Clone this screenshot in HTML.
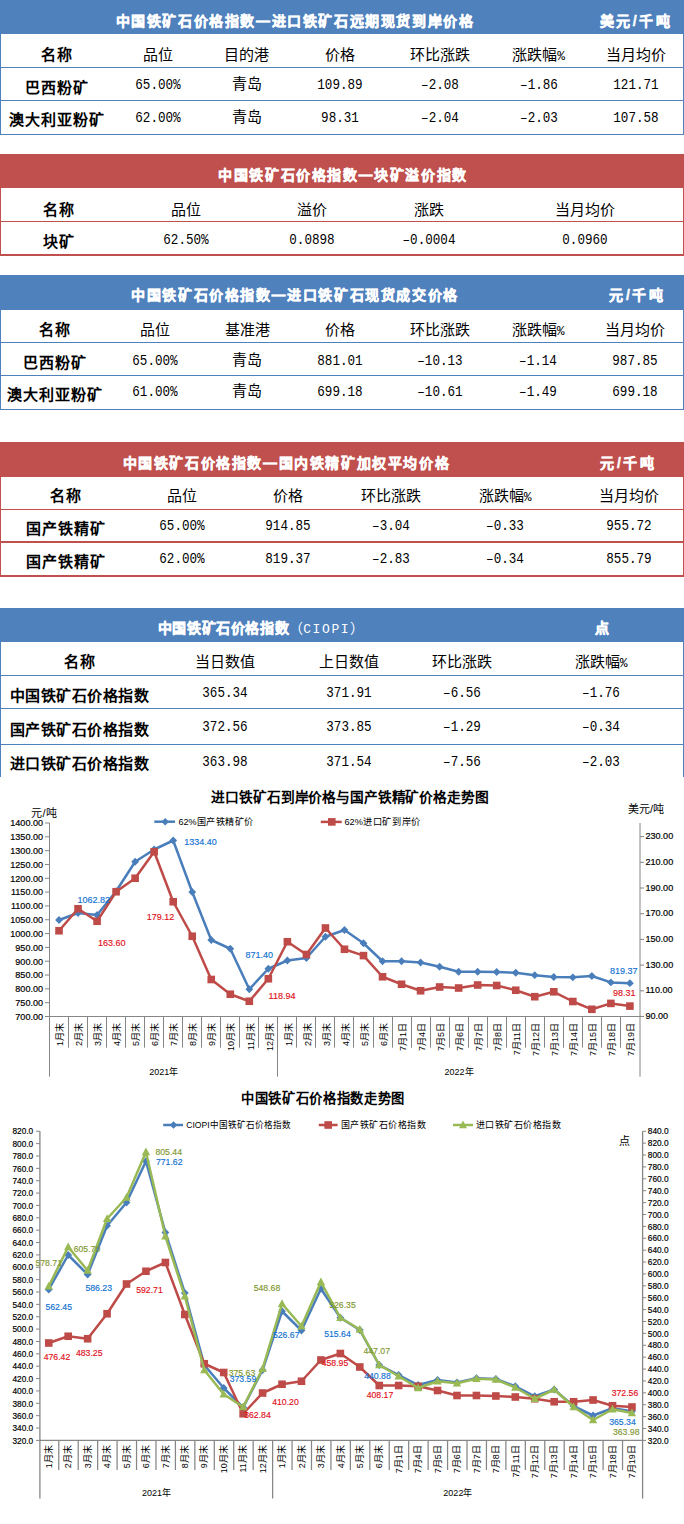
<!DOCTYPE html>
<html lang="zh-CN"><head><meta charset="utf-8"><title>中国铁矿石价格指数</title>
<style>
*{margin:0;padding:0;box-sizing:border-box}
html,body{width:684px;height:1524px;overflow:hidden;background:#fff}
body{position:relative;font-family:"Liberation Sans",sans-serif;color:#000}
.bar{position:absolute;left:0;width:684px}
.hl{position:absolute;left:0;width:684px;height:1px}
.vl{position:absolute;width:1px}
.t{position:absolute;white-space:nowrap;line-height:15px;height:15px;transform:translate(-50%,-50%)}
.cj{font-size:15px}
.cb{font-size:15px;font-weight:bold;letter-spacing:1px}
.cbn{letter-spacing:0.5px}
.hd{font-size:14px;font-weight:bold;letter-spacing:1.6px;color:#fff;-webkit-text-stroke:0.45px #fff}
.hu{letter-spacing:2.6px}
.nm{font-family:"Liberation Mono",monospace;font-size:15px;transform:translate(-50%,-50%) scaleX(0.84)}
svg{position:absolute;left:0;top:0}
.pc{font-family:"Liberation Mono",monospace;font-size:13px;letter-spacing:-0.5px}
.ci{font-weight:normal;-webkit-text-stroke:0;letter-spacing:0}
.cm{font-family:"Liberation Mono",monospace;font-size:13px;letter-spacing:1.6px}
</style></head><body>
<div style="position:absolute;left:0px;top:0px;width:684px;height:34px;background:#4F81BD"></div>
<div style="position:absolute;left:0px;top:34px;width:1px;height:101px;background:#4F81BD"></div>
<div style="position:absolute;left:683px;top:34px;width:1px;height:101px;background:#4F81BD"></div>
<div style="position:absolute;left:0px;top:67px;width:684px;height:1px;background:#4F81BD"></div>
<div style="position:absolute;left:0px;top:100px;width:684px;height:1px;background:#4F81BD"></div>
<div style="position:absolute;left:0px;top:134px;width:684px;height:1px;background:#4F81BD"></div>
<div class="t hd" style="left:295px;top:20.5px">中国铁矿石价格指数—进口铁矿石远期现货到岸价格</div>
<div class="t hd hu" style="left:636px;top:20.5px">美元/千吨</div>
<div class="t cb" style="left:57px;top:54px">名称</div>
<div class="t cj" style="left:158px;top:54px">品位</div>
<div class="t cj" style="left:246.5px;top:54px">目的港</div>
<div class="t cj" style="left:340px;top:54px">价格</div>
<div class="t cj" style="left:439.5px;top:54px">环比涨跌</div>
<div class="t cj" style="left:538.5px;top:54px">涨跌幅<span class="pc">%</span></div>
<div class="t cj" style="left:635.5px;top:54px">当月均价</div>
<div class="t cb" style="left:57px;top:86.5px">巴西粉矿</div>
<div class="t nm" style="left:158px;top:85.0px">65.00%</div>
<div class="t cj" style="left:246.5px;top:83.0px">青岛</div>
<div class="t nm" style="left:340px;top:85.0px">109.89</div>
<div class="t nm" style="left:439.5px;top:85.0px">–2.08</div>
<div class="t nm" style="left:538.5px;top:85.0px">–1.86</div>
<div class="t nm" style="left:635.5px;top:85.0px">121.71</div>
<div class="t cb" style="left:57px;top:119px">澳大利亚粉矿</div>
<div class="t nm" style="left:158px;top:117.5px">62.00%</div>
<div class="t cj" style="left:246.5px;top:115.5px">青岛</div>
<div class="t nm" style="left:340px;top:117.5px">98.31</div>
<div class="t nm" style="left:439.5px;top:117.5px">–2.04</div>
<div class="t nm" style="left:538.5px;top:117.5px">–2.03</div>
<div class="t nm" style="left:635.5px;top:117.5px">107.58</div>
<div style="position:absolute;left:0px;top:154px;width:684px;height:34px;background:#C0504D"></div>
<div style="position:absolute;left:0px;top:188px;width:1px;height:68px;background:#C0504D"></div>
<div style="position:absolute;left:683px;top:188px;width:1px;height:68px;background:#C0504D"></div>
<div style="position:absolute;left:0px;top:221px;width:684px;height:1px;background:#C0504D"></div>
<div style="position:absolute;left:0px;top:254px;width:684px;height:1px;background:#C0504D"></div>
<div style="position:absolute;left:0px;top:255px;width:684px;height:1px;background:#C0504D"></div>
<div class="t hd" style="left:343px;top:175px">中国铁矿石价格指数—块矿溢价指数</div>
<div class="t cb" style="left:59px;top:209px">名称</div>
<div class="t cj" style="left:186px;top:209px">品位</div>
<div class="t cj" style="left:312px;top:209px">溢价</div>
<div class="t cj" style="left:429px;top:209px">涨跌</div>
<div class="t cj" style="left:585px;top:209px">当月均价</div>
<div class="t cb" style="left:59px;top:241px">块矿</div>
<div class="t nm" style="left:186px;top:239.5px">62.50%</div>
<div class="t nm" style="left:312px;top:239.5px">0.0898</div>
<div class="t nm" style="left:429px;top:239.5px">–0.0004</div>
<div class="t nm" style="left:585px;top:239.5px">0.0960</div>
<div style="position:absolute;left:0px;top:275px;width:684px;height:35px;background:#4F81BD"></div>
<div style="position:absolute;left:0px;top:310px;width:1px;height:100px;background:#4F81BD"></div>
<div style="position:absolute;left:683px;top:310px;width:1px;height:100px;background:#4F81BD"></div>
<div style="position:absolute;left:0px;top:342px;width:684px;height:1px;background:#4F81BD"></div>
<div style="position:absolute;left:0px;top:375px;width:684px;height:1px;background:#4F81BD"></div>
<div style="position:absolute;left:0px;top:409px;width:684px;height:1px;background:#4F81BD"></div>
<div class="t hd" style="left:295px;top:295px">中国铁矿石价格指数—进口铁矿石现货成交价格</div>
<div class="t hd hu" style="left:637.5px;top:295px">元/千吨</div>
<div class="t cb" style="left:55px;top:329px">名称</div>
<div class="t cj" style="left:155px;top:329px">品位</div>
<div class="t cj" style="left:247px;top:329px">基准港</div>
<div class="t cj" style="left:340px;top:329px">价格</div>
<div class="t cj" style="left:440px;top:329px">环比涨跌</div>
<div class="t cj" style="left:538px;top:329px">涨跌幅<span class="pc">%</span></div>
<div class="t cj" style="left:635px;top:329px">当月均价</div>
<div class="t cb" style="left:55px;top:362px">巴西粉矿</div>
<div class="t nm" style="left:155px;top:360.5px">65.00%</div>
<div class="t cj" style="left:247px;top:358.5px">青岛</div>
<div class="t nm" style="left:340px;top:360.5px">881.01</div>
<div class="t nm" style="left:440px;top:360.5px">–10.13</div>
<div class="t nm" style="left:538px;top:360.5px">–1.14</div>
<div class="t nm" style="left:635px;top:360.5px">987.85</div>
<div class="t cb" style="left:55px;top:393.5px">澳大利亚粉矿</div>
<div class="t nm" style="left:155px;top:392.0px">61.00%</div>
<div class="t cj" style="left:247px;top:390.0px">青岛</div>
<div class="t nm" style="left:340px;top:392.0px">699.18</div>
<div class="t nm" style="left:440px;top:392.0px">–10.61</div>
<div class="t nm" style="left:538px;top:392.0px">–1.49</div>
<div class="t nm" style="left:635px;top:392.0px">699.18</div>
<div style="position:absolute;left:0px;top:442px;width:684px;height:35px;background:#C0504D"></div>
<div style="position:absolute;left:0px;top:477px;width:1px;height:100px;background:#C0504D"></div>
<div style="position:absolute;left:683px;top:477px;width:1px;height:100px;background:#C0504D"></div>
<div style="position:absolute;left:0px;top:509px;width:684px;height:1px;background:#C0504D"></div>
<div style="position:absolute;left:0px;top:541px;width:684px;height:1px;background:#C0504D"></div>
<div style="position:absolute;left:0px;top:542px;width:684px;height:1px;background:#C0504D"></div>
<div style="position:absolute;left:0px;top:575px;width:684px;height:1px;background:#C0504D"></div>
<div style="position:absolute;left:0px;top:576px;width:684px;height:1px;background:#C0504D"></div>
<div class="t hd" style="left:286.5px;top:462.5px">中国铁矿石价格指数—国内铁精矿加权平均价格</div>
<div class="t hd hu" style="left:628.5px;top:462.5px">元/千吨</div>
<div class="t cb" style="left:65.5px;top:495px">名称</div>
<div class="t cj" style="left:181.5px;top:495px">品位</div>
<div class="t cj" style="left:287.5px;top:495px">价格</div>
<div class="t cj" style="left:391px;top:495px">环比涨跌</div>
<div class="t cj" style="left:505px;top:495px">涨跌幅<span class="pc">%</span></div>
<div class="t cj" style="left:629px;top:495px">当月均价</div>
<div class="t cb" style="left:65.5px;top:527.5px">国产铁精矿</div>
<div class="t nm" style="left:181.5px;top:526.0px">65.00%</div>
<div class="t nm" style="left:287.5px;top:526.0px">914.85</div>
<div class="t nm" style="left:391px;top:526.0px">–3.04</div>
<div class="t nm" style="left:505px;top:526.0px">–0.33</div>
<div class="t nm" style="left:629px;top:526.0px">955.72</div>
<div class="t cb" style="left:65.5px;top:560.5px">国产铁精矿</div>
<div class="t nm" style="left:181.5px;top:559.0px">62.00%</div>
<div class="t nm" style="left:287.5px;top:559.0px">819.37</div>
<div class="t nm" style="left:391px;top:559.0px">–2.83</div>
<div class="t nm" style="left:505px;top:559.0px">–0.34</div>
<div class="t nm" style="left:629px;top:559.0px">855.79</div>
<div style="position:absolute;left:0px;top:608px;width:684px;height:34px;background:#4F81BD"></div>
<div style="position:absolute;left:0px;top:642px;width:1px;height:135px;background:#4F81BD"></div>
<div style="position:absolute;left:683px;top:642px;width:1px;height:135px;background:#4F81BD"></div>
<div style="position:absolute;left:0px;top:675px;width:684px;height:1px;background:#4F81BD"></div>
<div style="position:absolute;left:0px;top:708px;width:684px;height:1px;background:#4F81BD"></div>
<div style="position:absolute;left:0px;top:744px;width:684px;height:1px;background:#4F81BD"></div>
<div class="t hd" style="left:261px;top:627.5px"><span style="letter-spacing:0.6px">中国铁矿石价格指数</span><span class="ci">（<span class="cm">CIOPI</span>）</span></div>
<div class="t hd hu" style="left:603px;top:627.5px">点</div>
<div class="t cb" style="left:79.5px;top:660.5px">名称</div>
<div class="t cj" style="left:225px;top:660.5px">当日数值</div>
<div class="t cj" style="left:349px;top:660.5px">上日数值</div>
<div class="t cj" style="left:462px;top:660.5px">环比涨跌</div>
<div class="t cj" style="left:601px;top:660.5px">涨跌幅<span class="pc">%</span></div>
<div class="t cb cbn" style="left:79.5px;top:694.5px">中国铁矿石价格指数</div>
<div class="t nm" style="left:225px;top:693.0px">365.34</div>
<div class="t nm" style="left:349px;top:693.0px">371.91</div>
<div class="t nm" style="left:462px;top:693.0px">–6.56</div>
<div class="t nm" style="left:601px;top:693.0px">–1.76</div>
<div class="t cb cbn" style="left:79.5px;top:728.5px">国产铁矿石价格指数</div>
<div class="t nm" style="left:225px;top:727.0px">372.56</div>
<div class="t nm" style="left:349px;top:727.0px">373.85</div>
<div class="t nm" style="left:462px;top:727.0px">–1.29</div>
<div class="t nm" style="left:601px;top:727.0px">–0.34</div>
<div class="t cb cbn" style="left:79.5px;top:763px">进口铁矿石价格指数</div>
<div class="t nm" style="left:225px;top:761.5px">363.98</div>
<div class="t nm" style="left:349px;top:761.5px">371.54</div>
<div class="t nm" style="left:462px;top:761.5px">–7.56</div>
<div class="t nm" style="left:601px;top:761.5px">–2.03</div>
<svg width="684" height="1524" viewBox="0 0 684 1524" font-family="Liberation Sans, sans-serif">
<text transform="translate(350.00,802.30) scale(0.98,1)" font-size="14" text-anchor="middle" fill="#000" font-weight="bold" >进口铁矿石到岸价格与国产铁精矿价格走势图</text>
<line x1="154.3" y1="821.7" x2="175" y2="821.7" stroke="#4A7EBB" stroke-width="2.5"/>
<path d="M165.2 817.9000000000001L169.0 821.7L165.2 825.5L161.39999999999998 821.7Z" fill="#4A7EBB"/>
<text x="178.4" y="825" font-size="9.5" text-anchor="start" fill="#000" font-weight="normal"  textLength="75.5" lengthAdjust="spacingAndGlyphs">62%国产铁精矿价</text>
<line x1="320.8" y1="821.9" x2="341.7" y2="821.9" stroke="#BE4B48" stroke-width="2.5"/>
<rect x="328.0" y="818.1" width="7.6" height="7.6" fill="#BE4B48"/>
<text x="344.5" y="825" font-size="9.5" text-anchor="start" fill="#000" font-weight="normal"  textLength="76.5" lengthAdjust="spacingAndGlyphs">62%进口矿到岸价</text>
<text x="44" y="816.5" font-size="11" text-anchor="middle" fill="#000" font-weight="normal" >元/吨</text>
<text x="646" y="813" font-size="11" text-anchor="middle" fill="#000" font-weight="normal" >美元/吨</text>
<line x1="49.5" y1="823" x2="49.5" y2="1076.7" stroke="#868686" stroke-width="1"/>
<line x1="640" y1="823" x2="640" y2="1076.7" stroke="#868686" stroke-width="1"/>
<line x1="49.5" y1="1016.5" x2="640" y2="1016.5" stroke="#868686" stroke-width="1"/>
<line x1="45" y1="823.0" x2="49.5" y2="823.0" stroke="#868686" stroke-width="1"/>
<text transform="translate(43.00,826.30) scale(0.955,1)" font-size="9.5" text-anchor="end" fill="#000" font-weight="normal"  stroke="#000" stroke-width="0.2">1400.00</text>
<line x1="45" y1="836.8214285714286" x2="49.5" y2="836.8214285714286" stroke="#868686" stroke-width="1"/>
<text transform="translate(43.00,840.12) scale(0.955,1)" font-size="9.5" text-anchor="end" fill="#000" font-weight="normal"  stroke="#000" stroke-width="0.2">1350.00</text>
<line x1="45" y1="850.6428571428571" x2="49.5" y2="850.6428571428571" stroke="#868686" stroke-width="1"/>
<text transform="translate(43.00,853.94) scale(0.955,1)" font-size="9.5" text-anchor="end" fill="#000" font-weight="normal"  stroke="#000" stroke-width="0.2">1300.00</text>
<line x1="45" y1="864.4642857142857" x2="49.5" y2="864.4642857142857" stroke="#868686" stroke-width="1"/>
<text transform="translate(43.00,867.76) scale(0.955,1)" font-size="9.5" text-anchor="end" fill="#000" font-weight="normal"  stroke="#000" stroke-width="0.2">1250.00</text>
<line x1="45" y1="878.2857142857143" x2="49.5" y2="878.2857142857143" stroke="#868686" stroke-width="1"/>
<text transform="translate(43.00,881.59) scale(0.955,1)" font-size="9.5" text-anchor="end" fill="#000" font-weight="normal"  stroke="#000" stroke-width="0.2">1200.00</text>
<line x1="45" y1="892.1071428571429" x2="49.5" y2="892.1071428571429" stroke="#868686" stroke-width="1"/>
<text transform="translate(43.00,895.41) scale(0.955,1)" font-size="9.5" text-anchor="end" fill="#000" font-weight="normal"  stroke="#000" stroke-width="0.2">1150.00</text>
<line x1="45" y1="905.9285714285714" x2="49.5" y2="905.9285714285714" stroke="#868686" stroke-width="1"/>
<text transform="translate(43.00,909.23) scale(0.955,1)" font-size="9.5" text-anchor="end" fill="#000" font-weight="normal"  stroke="#000" stroke-width="0.2">1100.00</text>
<line x1="45" y1="919.75" x2="49.5" y2="919.75" stroke="#868686" stroke-width="1"/>
<text transform="translate(43.00,923.05) scale(0.955,1)" font-size="9.5" text-anchor="end" fill="#000" font-weight="normal"  stroke="#000" stroke-width="0.2">1050.00</text>
<line x1="45" y1="933.5714285714286" x2="49.5" y2="933.5714285714286" stroke="#868686" stroke-width="1"/>
<text transform="translate(43.00,936.87) scale(0.955,1)" font-size="9.5" text-anchor="end" fill="#000" font-weight="normal"  stroke="#000" stroke-width="0.2">1000.00</text>
<line x1="45" y1="947.3928571428571" x2="49.5" y2="947.3928571428571" stroke="#868686" stroke-width="1"/>
<text transform="translate(43.00,950.69) scale(0.955,1)" font-size="9.5" text-anchor="end" fill="#000" font-weight="normal"  stroke="#000" stroke-width="0.2">950.00</text>
<line x1="45" y1="961.2142857142858" x2="49.5" y2="961.2142857142858" stroke="#868686" stroke-width="1"/>
<text transform="translate(43.00,964.51) scale(0.955,1)" font-size="9.5" text-anchor="end" fill="#000" font-weight="normal"  stroke="#000" stroke-width="0.2">900.00</text>
<line x1="45" y1="975.0357142857142" x2="49.5" y2="975.0357142857142" stroke="#868686" stroke-width="1"/>
<text transform="translate(43.00,978.34) scale(0.955,1)" font-size="9.5" text-anchor="end" fill="#000" font-weight="normal"  stroke="#000" stroke-width="0.2">850.00</text>
<line x1="45" y1="988.8571428571429" x2="49.5" y2="988.8571428571429" stroke="#868686" stroke-width="1"/>
<text transform="translate(43.00,992.16) scale(0.955,1)" font-size="9.5" text-anchor="end" fill="#000" font-weight="normal"  stroke="#000" stroke-width="0.2">800.00</text>
<line x1="45" y1="1002.6785714285714" x2="49.5" y2="1002.6785714285714" stroke="#868686" stroke-width="1"/>
<text transform="translate(43.00,1005.98) scale(0.955,1)" font-size="9.5" text-anchor="end" fill="#000" font-weight="normal"  stroke="#000" stroke-width="0.2">750.00</text>
<line x1="45" y1="1016.5" x2="49.5" y2="1016.5" stroke="#868686" stroke-width="1"/>
<text transform="translate(43.00,1019.80) scale(0.955,1)" font-size="9.5" text-anchor="end" fill="#000" font-weight="normal"  stroke="#000" stroke-width="0.2">700.00</text>
<line x1="640" y1="1016.5" x2="644" y2="1016.5" stroke="#868686" stroke-width="1"/>
<text transform="translate(645.50,1019.00) scale(0.955,1)" font-size="9.5" text-anchor="start" fill="#000" font-weight="normal"  stroke="#000" stroke-width="0.2">90.00</text>
<line x1="640" y1="990.8" x2="644" y2="990.8" stroke="#868686" stroke-width="1"/>
<text transform="translate(645.50,993.30) scale(0.955,1)" font-size="9.5" text-anchor="start" fill="#000" font-weight="normal"  stroke="#000" stroke-width="0.2">110.00</text>
<line x1="640" y1="965.1" x2="644" y2="965.1" stroke="#868686" stroke-width="1"/>
<text transform="translate(645.50,967.60) scale(0.955,1)" font-size="9.5" text-anchor="start" fill="#000" font-weight="normal"  stroke="#000" stroke-width="0.2">130.00</text>
<line x1="640" y1="939.4" x2="644" y2="939.4" stroke="#868686" stroke-width="1"/>
<text transform="translate(645.50,941.90) scale(0.955,1)" font-size="9.5" text-anchor="start" fill="#000" font-weight="normal"  stroke="#000" stroke-width="0.2">150.00</text>
<line x1="640" y1="913.7" x2="644" y2="913.7" stroke="#868686" stroke-width="1"/>
<text transform="translate(645.50,916.20) scale(0.955,1)" font-size="9.5" text-anchor="start" fill="#000" font-weight="normal"  stroke="#000" stroke-width="0.2">170.00</text>
<line x1="640" y1="888.0" x2="644" y2="888.0" stroke="#868686" stroke-width="1"/>
<text transform="translate(645.50,890.50) scale(0.955,1)" font-size="9.5" text-anchor="start" fill="#000" font-weight="normal"  stroke="#000" stroke-width="0.2">190.00</text>
<line x1="640" y1="862.3" x2="644" y2="862.3" stroke="#868686" stroke-width="1"/>
<text transform="translate(645.50,864.80) scale(0.955,1)" font-size="9.5" text-anchor="start" fill="#000" font-weight="normal"  stroke="#000" stroke-width="0.2">210.00</text>
<line x1="640" y1="836.6" x2="644" y2="836.6" stroke="#868686" stroke-width="1"/>
<text transform="translate(645.50,839.10) scale(0.955,1)" font-size="9.5" text-anchor="start" fill="#000" font-weight="normal"  stroke="#000" stroke-width="0.2">230.00</text>
<line x1="68.5" y1="1016.5" x2="68.5" y2="1047.7" stroke="#868686" stroke-width="1"/>
<line x1="87.5" y1="1016.5" x2="87.5" y2="1047.7" stroke="#868686" stroke-width="1"/>
<line x1="106.5" y1="1016.5" x2="106.5" y2="1047.7" stroke="#868686" stroke-width="1"/>
<line x1="125.5" y1="1016.5" x2="125.5" y2="1047.7" stroke="#868686" stroke-width="1"/>
<line x1="144.5" y1="1016.5" x2="144.5" y2="1047.7" stroke="#868686" stroke-width="1"/>
<line x1="163.5" y1="1016.5" x2="163.5" y2="1047.7" stroke="#868686" stroke-width="1"/>
<line x1="182.5" y1="1016.5" x2="182.5" y2="1047.7" stroke="#868686" stroke-width="1"/>
<line x1="201.5" y1="1016.5" x2="201.5" y2="1047.7" stroke="#868686" stroke-width="1"/>
<line x1="220.5" y1="1016.5" x2="220.5" y2="1047.7" stroke="#868686" stroke-width="1"/>
<line x1="239.5" y1="1016.5" x2="239.5" y2="1047.7" stroke="#868686" stroke-width="1"/>
<line x1="258.5" y1="1016.5" x2="258.5" y2="1047.7" stroke="#868686" stroke-width="1"/>
<line x1="277.5" y1="1016.5" x2="277.5" y2="1076.7" stroke="#868686" stroke-width="1"/>
<line x1="296.5" y1="1016.5" x2="296.5" y2="1047.7" stroke="#868686" stroke-width="1"/>
<line x1="315.5" y1="1016.5" x2="315.5" y2="1047.7" stroke="#868686" stroke-width="1"/>
<line x1="334.5" y1="1016.5" x2="334.5" y2="1047.7" stroke="#868686" stroke-width="1"/>
<line x1="353.5" y1="1016.5" x2="353.5" y2="1047.7" stroke="#868686" stroke-width="1"/>
<line x1="373.5" y1="1016.5" x2="373.5" y2="1047.7" stroke="#868686" stroke-width="1"/>
<line x1="392.5" y1="1016.5" x2="392.5" y2="1047.7" stroke="#868686" stroke-width="1"/>
<line x1="411.5" y1="1016.5" x2="411.5" y2="1047.7" stroke="#868686" stroke-width="1"/>
<line x1="430.5" y1="1016.5" x2="430.5" y2="1047.7" stroke="#868686" stroke-width="1"/>
<line x1="449.5" y1="1016.5" x2="449.5" y2="1047.7" stroke="#868686" stroke-width="1"/>
<line x1="468.5" y1="1016.5" x2="468.5" y2="1047.7" stroke="#868686" stroke-width="1"/>
<line x1="487.5" y1="1016.5" x2="487.5" y2="1047.7" stroke="#868686" stroke-width="1"/>
<line x1="506.5" y1="1016.5" x2="506.5" y2="1047.7" stroke="#868686" stroke-width="1"/>
<line x1="525.5" y1="1016.5" x2="525.5" y2="1047.7" stroke="#868686" stroke-width="1"/>
<line x1="544.5" y1="1016.5" x2="544.5" y2="1047.7" stroke="#868686" stroke-width="1"/>
<line x1="563.5" y1="1016.5" x2="563.5" y2="1047.7" stroke="#868686" stroke-width="1"/>
<line x1="582.5" y1="1016.5" x2="582.5" y2="1047.7" stroke="#868686" stroke-width="1"/>
<line x1="601.5" y1="1016.5" x2="601.5" y2="1047.7" stroke="#868686" stroke-width="1"/>
<line x1="620.5" y1="1016.5" x2="620.5" y2="1047.7" stroke="#868686" stroke-width="1"/>
<text x="0" y="0" font-size="9" text-anchor="end" fill="#000" font-weight="normal" transform="translate(63.22,1023) rotate(-90)">1月末</text>
<text x="0" y="0" font-size="9" text-anchor="end" fill="#000" font-weight="normal" transform="translate(82.25,1023) rotate(-90)">2月末</text>
<text x="0" y="0" font-size="9" text-anchor="end" fill="#000" font-weight="normal" transform="translate(101.28,1023) rotate(-90)">3月末</text>
<text x="0" y="0" font-size="9" text-anchor="end" fill="#000" font-weight="normal" transform="translate(120.31,1023) rotate(-90)">4月末</text>
<text x="0" y="0" font-size="9" text-anchor="end" fill="#000" font-weight="normal" transform="translate(139.33,1023) rotate(-90)">5月末</text>
<text x="0" y="0" font-size="9" text-anchor="end" fill="#000" font-weight="normal" transform="translate(158.37,1023) rotate(-90)">6月末</text>
<text x="0" y="0" font-size="9" text-anchor="end" fill="#000" font-weight="normal" transform="translate(177.39,1023) rotate(-90)">7月末</text>
<text x="0" y="0" font-size="9" text-anchor="end" fill="#000" font-weight="normal" transform="translate(196.43,1023) rotate(-90)">8月末</text>
<text x="0" y="0" font-size="9" text-anchor="end" fill="#000" font-weight="normal" transform="translate(215.45,1023) rotate(-90)">9月末</text>
<text x="0" y="0" font-size="9" text-anchor="end" fill="#000" font-weight="normal" transform="translate(234.49,1023) rotate(-90)">10月末</text>
<text x="0" y="0" font-size="9" text-anchor="end" fill="#000" font-weight="normal" transform="translate(253.51,1023) rotate(-90)">11月末</text>
<text x="0" y="0" font-size="9" text-anchor="end" fill="#000" font-weight="normal" transform="translate(272.55,1023) rotate(-90)">12月末</text>
<text x="0" y="0" font-size="9" text-anchor="end" fill="#000" font-weight="normal" transform="translate(291.57,1023) rotate(-90)">1月末</text>
<text x="0" y="0" font-size="9" text-anchor="end" fill="#000" font-weight="normal" transform="translate(310.61,1023) rotate(-90)">2月末</text>
<text x="0" y="0" font-size="9" text-anchor="end" fill="#000" font-weight="normal" transform="translate(329.63,1023) rotate(-90)">3月末</text>
<text x="0" y="0" font-size="9" text-anchor="end" fill="#000" font-weight="normal" transform="translate(348.67,1023) rotate(-90)">4月末</text>
<text x="0" y="0" font-size="9" text-anchor="end" fill="#000" font-weight="normal" transform="translate(367.69,1023) rotate(-90)">5月末</text>
<text x="0" y="0" font-size="9" text-anchor="end" fill="#000" font-weight="normal" transform="translate(386.73,1023) rotate(-90)">6月末</text>
<text x="0" y="0" font-size="9" text-anchor="end" fill="#000" font-weight="normal" transform="translate(405.75,1023) rotate(-90)">7月1日</text>
<text x="0" y="0" font-size="9" text-anchor="end" fill="#000" font-weight="normal" transform="translate(424.79,1023) rotate(-90)">7月4日</text>
<text x="0" y="0" font-size="9" text-anchor="end" fill="#000" font-weight="normal" transform="translate(443.81,1023) rotate(-90)">7月5日</text>
<text x="0" y="0" font-size="9" text-anchor="end" fill="#000" font-weight="normal" transform="translate(462.85,1023) rotate(-90)">7月6日</text>
<text x="0" y="0" font-size="9" text-anchor="end" fill="#000" font-weight="normal" transform="translate(481.88,1023) rotate(-90)">7月7日</text>
<text x="0" y="0" font-size="9" text-anchor="end" fill="#000" font-weight="normal" transform="translate(500.91,1023) rotate(-90)">7月8日</text>
<text x="0" y="0" font-size="9" text-anchor="end" fill="#000" font-weight="normal" transform="translate(519.94,1023) rotate(-90)">7月11日</text>
<text x="0" y="0" font-size="9" text-anchor="end" fill="#000" font-weight="normal" transform="translate(538.97,1023) rotate(-90)">7月12日</text>
<text x="0" y="0" font-size="9" text-anchor="end" fill="#000" font-weight="normal" transform="translate(558.00,1023) rotate(-90)">7月13日</text>
<text x="0" y="0" font-size="9" text-anchor="end" fill="#000" font-weight="normal" transform="translate(577.03,1023) rotate(-90)">7月14日</text>
<text x="0" y="0" font-size="9" text-anchor="end" fill="#000" font-weight="normal" transform="translate(596.06,1023) rotate(-90)">7月15日</text>
<text x="0" y="0" font-size="9" text-anchor="end" fill="#000" font-weight="normal" transform="translate(615.09,1023) rotate(-90)">7月18日</text>
<text x="0" y="0" font-size="9" text-anchor="end" fill="#000" font-weight="normal" transform="translate(634.12,1023) rotate(-90)">7月19日</text>
<text x="163.8" y="1074.5" font-size="9" text-anchor="middle" fill="#000" font-weight="normal" >2021年</text>
<text x="459" y="1074.5" font-size="9" text-anchor="middle" fill="#000" font-weight="normal" >2022年</text>
<polyline points="59.02,920.00 78.05,913.00 97.08,915.00 116.11,891.25 135.13,861.75 154.17,849.50 173.19,840.50 192.23,892.00 211.25,940.00 230.29,948.75 249.31,989.25 268.35,968.75 287.38,960.50 306.41,958.00 325.44,936.75 344.47,930.00 363.50,943.25 382.53,961.25 401.56,961.25 420.59,962.50 439.62,966.75 458.65,971.75 477.68,971.75 496.71,972.00 515.74,972.75 534.77,975.20 553.80,977.00 572.83,977.30 591.86,976.00 610.88,982.40 629.92,983.20" fill="none" stroke="#4A7EBB" stroke-width="2.5" stroke-linejoin="round"/>
<path d="M59.015 916.1L62.915 920L59.015 923.9L55.115 920Z" fill="#4A7EBB"/>
<path d="M78.045 909.1L81.94500000000001 913L78.045 916.9L74.145 913Z" fill="#4A7EBB"/>
<path d="M97.075 911.1L100.97500000000001 915L97.075 918.9L93.175 915Z" fill="#4A7EBB"/>
<path d="M116.105 887.35L120.00500000000001 891.25L116.105 895.15L112.205 891.25Z" fill="#4A7EBB"/>
<path d="M135.135 857.85L139.035 861.75L135.135 865.65L131.23499999999999 861.75Z" fill="#4A7EBB"/>
<path d="M154.16500000000002 845.6L158.06500000000003 849.5L154.16500000000002 853.4L150.26500000000001 849.5Z" fill="#4A7EBB"/>
<path d="M173.195 836.6L177.095 840.5L173.195 844.4L169.295 840.5Z" fill="#4A7EBB"/>
<path d="M192.22500000000002 888.1L196.12500000000003 892L192.22500000000002 895.9L188.32500000000002 892Z" fill="#4A7EBB"/>
<path d="M211.255 936.1L215.155 940L211.255 943.9L207.355 940Z" fill="#4A7EBB"/>
<path d="M230.28500000000003 944.85L234.18500000000003 948.75L230.28500000000003 952.65L226.38500000000002 948.75Z" fill="#4A7EBB"/>
<path d="M249.315 985.35L253.215 989.25L249.315 993.15L245.415 989.25Z" fill="#4A7EBB"/>
<path d="M268.345 964.85L272.245 968.75L268.345 972.65L264.44500000000005 968.75Z" fill="#4A7EBB"/>
<path d="M287.375 956.6L291.275 960.5L287.375 964.4L283.475 960.5Z" fill="#4A7EBB"/>
<path d="M306.40500000000003 954.1L310.305 958L306.40500000000003 961.9L302.50500000000005 958Z" fill="#4A7EBB"/>
<path d="M325.435 932.85L329.335 936.75L325.435 940.65L321.535 936.75Z" fill="#4A7EBB"/>
<path d="M344.46500000000003 926.1L348.365 930L344.46500000000003 933.9L340.56500000000005 930Z" fill="#4A7EBB"/>
<path d="M363.495 939.35L367.395 943.25L363.495 947.15L359.595 943.25Z" fill="#4A7EBB"/>
<path d="M382.52500000000003 957.35L386.425 961.25L382.52500000000003 965.15L378.62500000000006 961.25Z" fill="#4A7EBB"/>
<path d="M401.555 957.35L405.455 961.25L401.555 965.15L397.65500000000003 961.25Z" fill="#4A7EBB"/>
<path d="M420.58500000000004 958.6L424.485 962.5L420.58500000000004 966.4L416.68500000000006 962.5Z" fill="#4A7EBB"/>
<path d="M439.615 962.85L443.515 966.75L439.615 970.65L435.71500000000003 966.75Z" fill="#4A7EBB"/>
<path d="M458.64500000000004 967.85L462.545 971.75L458.64500000000004 975.65L454.74500000000006 971.75Z" fill="#4A7EBB"/>
<path d="M477.675 967.85L481.575 971.75L477.675 975.65L473.77500000000003 971.75Z" fill="#4A7EBB"/>
<path d="M496.70500000000004 968.1L500.605 972L496.70500000000004 975.9L492.80500000000006 972Z" fill="#4A7EBB"/>
<path d="M515.735 968.85L519.635 972.75L515.735 976.65L511.83500000000004 972.75Z" fill="#4A7EBB"/>
<path d="M534.7650000000001 971.3000000000001L538.6650000000001 975.2L534.7650000000001 979.1L530.8650000000001 975.2Z" fill="#4A7EBB"/>
<path d="M553.7950000000001 973.1L557.695 977L553.7950000000001 980.9L549.8950000000001 977Z" fill="#4A7EBB"/>
<path d="M572.825 973.4L576.725 977.3L572.825 981.1999999999999L568.9250000000001 977.3Z" fill="#4A7EBB"/>
<path d="M591.855 972.1L595.755 976L591.855 979.9L587.955 976Z" fill="#4A7EBB"/>
<path d="M610.885 978.5L614.785 982.4L610.885 986.3L606.985 982.4Z" fill="#4A7EBB"/>
<path d="M629.9150000000001 979.3000000000001L633.815 983.2L629.9150000000001 987.1L626.0150000000001 983.2Z" fill="#4A7EBB"/>
<polyline points="59.02,930.75 78.05,908.75 97.08,921.25 116.11,891.75 135.13,878.25 154.17,851.75 173.19,901.75 192.23,936.25 211.25,979.50 230.29,994.25 249.31,1001.25 268.35,978.75 287.38,941.75 306.41,954.50 325.44,928.00 344.47,949.25 363.50,955.60 382.53,976.75 401.56,984.25 420.59,990.75 439.62,987.00 458.65,988.00 477.68,985.00 496.71,985.50 515.74,990.25 534.77,996.70 553.80,991.80 572.83,1001.50 591.86,1009.30 610.88,1003.40 629.92,1006.10" fill="none" stroke="#BE4B48" stroke-width="2.5" stroke-linejoin="round"/>
<rect x="55.215" y="926.95" width="7.6" height="7.6" fill="#BE4B48"/>
<rect x="74.245" y="904.95" width="7.6" height="7.6" fill="#BE4B48"/>
<rect x="93.275" y="917.45" width="7.6" height="7.6" fill="#BE4B48"/>
<rect x="112.305" y="887.95" width="7.6" height="7.6" fill="#BE4B48"/>
<rect x="131.33499999999998" y="874.45" width="7.6" height="7.6" fill="#BE4B48"/>
<rect x="150.365" y="847.95" width="7.6" height="7.6" fill="#BE4B48"/>
<rect x="169.39499999999998" y="897.95" width="7.6" height="7.6" fill="#BE4B48"/>
<rect x="188.425" y="932.45" width="7.6" height="7.6" fill="#BE4B48"/>
<rect x="207.45499999999998" y="975.7" width="7.6" height="7.6" fill="#BE4B48"/>
<rect x="226.485" y="990.45" width="7.6" height="7.6" fill="#BE4B48"/>
<rect x="245.515" y="997.45" width="7.6" height="7.6" fill="#BE4B48"/>
<rect x="264.545" y="974.95" width="7.6" height="7.6" fill="#BE4B48"/>
<rect x="283.575" y="937.95" width="7.6" height="7.6" fill="#BE4B48"/>
<rect x="302.605" y="950.7" width="7.6" height="7.6" fill="#BE4B48"/>
<rect x="321.635" y="924.2" width="7.6" height="7.6" fill="#BE4B48"/>
<rect x="340.665" y="945.45" width="7.6" height="7.6" fill="#BE4B48"/>
<rect x="359.695" y="951.8000000000001" width="7.6" height="7.6" fill="#BE4B48"/>
<rect x="378.725" y="972.95" width="7.6" height="7.6" fill="#BE4B48"/>
<rect x="397.755" y="980.45" width="7.6" height="7.6" fill="#BE4B48"/>
<rect x="416.785" y="986.95" width="7.6" height="7.6" fill="#BE4B48"/>
<rect x="435.815" y="983.2" width="7.6" height="7.6" fill="#BE4B48"/>
<rect x="454.845" y="984.2" width="7.6" height="7.6" fill="#BE4B48"/>
<rect x="473.875" y="981.2" width="7.6" height="7.6" fill="#BE4B48"/>
<rect x="492.90500000000003" y="981.7" width="7.6" height="7.6" fill="#BE4B48"/>
<rect x="511.935" y="986.45" width="7.6" height="7.6" fill="#BE4B48"/>
<rect x="530.9650000000001" y="992.9000000000001" width="7.6" height="7.6" fill="#BE4B48"/>
<rect x="549.9950000000001" y="988.0" width="7.6" height="7.6" fill="#BE4B48"/>
<rect x="569.0250000000001" y="997.7" width="7.6" height="7.6" fill="#BE4B48"/>
<rect x="588.0550000000001" y="1005.5" width="7.6" height="7.6" fill="#BE4B48"/>
<rect x="607.085" y="999.6" width="7.6" height="7.6" fill="#BE4B48"/>
<rect x="626.1150000000001" y="1002.3000000000001" width="7.6" height="7.6" fill="#BE4B48"/>
<text x="93.75" y="902.75" font-size="9" text-anchor="middle" fill="#1272D2" font-weight="normal"  stroke="#1272D2" stroke-width="0.15">1062.82</text>
<text x="111.75" y="946.0" font-size="9" text-anchor="middle" fill="#E0101A" font-weight="normal"  stroke="#E0101A" stroke-width="0.15">163.60</text>
<text x="160.5" y="920.25" font-size="9" text-anchor="middle" fill="#E0101A" font-weight="normal"  stroke="#E0101A" stroke-width="0.15">179.12</text>
<text x="200.5" y="844.5" font-size="9" text-anchor="middle" fill="#1272D2" font-weight="normal"  stroke="#1272D2" stroke-width="0.15">1334.40</text>
<text x="259.25" y="957.75" font-size="9" text-anchor="middle" fill="#1272D2" font-weight="normal"  stroke="#1272D2" stroke-width="0.15">871.40</text>
<text x="282" y="999.25" font-size="9" text-anchor="middle" fill="#E0101A" font-weight="normal"  stroke="#E0101A" stroke-width="0.15">118.94</text>
<text x="623.75" y="973.8" font-size="9" text-anchor="middle" fill="#1272D2" font-weight="normal"  stroke="#1272D2" stroke-width="0.15">819.37</text>
<text x="624.3" y="995.6" font-size="9" text-anchor="middle" fill="#E0101A" font-weight="normal"  stroke="#E0101A" stroke-width="0.15">98.31</text>
<text transform="translate(323.00,1103.10) scale(0.95,1)" font-size="14" text-anchor="middle" fill="#000" font-weight="bold" >中国铁矿石价格指数走势图</text>
<line x1="163.2" y1="1125" x2="183" y2="1125" stroke="#4A7EBB" stroke-width="2.5"/>
<path d="M173.5 1121.2L177.3 1125L173.5 1128.8L169.7 1125Z" fill="#4A7EBB"/>
<text x="186.2" y="1128.3" font-size="9.5" text-anchor="start" fill="#000" font-weight="normal"  textLength="104.5" lengthAdjust="spacingAndGlyphs">CIOPI中国铁矿石价格指数</text>
<line x1="318.8" y1="1125" x2="337.6" y2="1125" stroke="#BE4B48" stroke-width="2.5"/>
<rect x="324.4" y="1121.2" width="7.6" height="7.6" fill="#BE4B48"/>
<text x="341" y="1128.3" font-size="9.5" text-anchor="start" fill="#000" font-weight="normal"  textLength="85" lengthAdjust="spacingAndGlyphs">国产铁矿石价格指数</text>
<line x1="453" y1="1125" x2="473" y2="1125" stroke="#98B954" stroke-width="2.5"/>
<path d="M463 1120.6L467 1128.2L459 1128.2Z" fill="#98B954"/>
<text x="475.5" y="1128.3" font-size="9.5" text-anchor="start" fill="#000" font-weight="normal"  textLength="85.5" lengthAdjust="spacingAndGlyphs">进口铁矿石价格指数</text>
<text x="624" y="1145" font-size="11" text-anchor="middle" fill="#000" font-weight="normal" >点</text>
<line x1="39.9" y1="1131.25" x2="39.9" y2="1498.5" stroke="#868686" stroke-width="1.3"/>
<line x1="642.6" y1="1131.25" x2="642.6" y2="1498.5" stroke="#868686" stroke-width="1.3"/>
<line x1="39.9" y1="1440.4" x2="642.6" y2="1440.4" stroke="#868686" stroke-width="1.3"/>
<line x1="36" y1="1131.25" x2="39.9" y2="1131.25" stroke="#868686" stroke-width="1"/>
<text transform="translate(33.20,1134.45) scale(0.89,1)" font-size="9.3" text-anchor="end" fill="#000" font-weight="normal"  stroke="#000" stroke-width="0.2">820.0</text>
<line x1="36" y1="1143.616" x2="39.9" y2="1143.616" stroke="#868686" stroke-width="1"/>
<text transform="translate(33.20,1146.82) scale(0.89,1)" font-size="9.3" text-anchor="end" fill="#000" font-weight="normal"  stroke="#000" stroke-width="0.2">800.0</text>
<line x1="36" y1="1155.982" x2="39.9" y2="1155.982" stroke="#868686" stroke-width="1"/>
<text transform="translate(33.20,1159.18) scale(0.89,1)" font-size="9.3" text-anchor="end" fill="#000" font-weight="normal"  stroke="#000" stroke-width="0.2">780.0</text>
<line x1="36" y1="1168.348" x2="39.9" y2="1168.348" stroke="#868686" stroke-width="1"/>
<text transform="translate(33.20,1171.55) scale(0.89,1)" font-size="9.3" text-anchor="end" fill="#000" font-weight="normal"  stroke="#000" stroke-width="0.2">760.0</text>
<line x1="36" y1="1180.714" x2="39.9" y2="1180.714" stroke="#868686" stroke-width="1"/>
<text transform="translate(33.20,1183.91) scale(0.89,1)" font-size="9.3" text-anchor="end" fill="#000" font-weight="normal"  stroke="#000" stroke-width="0.2">740.0</text>
<line x1="36" y1="1193.08" x2="39.9" y2="1193.08" stroke="#868686" stroke-width="1"/>
<text transform="translate(33.20,1196.28) scale(0.89,1)" font-size="9.3" text-anchor="end" fill="#000" font-weight="normal"  stroke="#000" stroke-width="0.2">720.0</text>
<line x1="36" y1="1205.446" x2="39.9" y2="1205.446" stroke="#868686" stroke-width="1"/>
<text transform="translate(33.20,1208.65) scale(0.89,1)" font-size="9.3" text-anchor="end" fill="#000" font-weight="normal"  stroke="#000" stroke-width="0.2">700.0</text>
<line x1="36" y1="1217.8120000000001" x2="39.9" y2="1217.8120000000001" stroke="#868686" stroke-width="1"/>
<text transform="translate(33.20,1221.01) scale(0.89,1)" font-size="9.3" text-anchor="end" fill="#000" font-weight="normal"  stroke="#000" stroke-width="0.2">680.0</text>
<line x1="36" y1="1230.178" x2="39.9" y2="1230.178" stroke="#868686" stroke-width="1"/>
<text transform="translate(33.20,1233.38) scale(0.89,1)" font-size="9.3" text-anchor="end" fill="#000" font-weight="normal"  stroke="#000" stroke-width="0.2">660.0</text>
<line x1="36" y1="1242.544" x2="39.9" y2="1242.544" stroke="#868686" stroke-width="1"/>
<text transform="translate(33.20,1245.74) scale(0.89,1)" font-size="9.3" text-anchor="end" fill="#000" font-weight="normal"  stroke="#000" stroke-width="0.2">640.0</text>
<line x1="36" y1="1254.91" x2="39.9" y2="1254.91" stroke="#868686" stroke-width="1"/>
<text transform="translate(33.20,1258.11) scale(0.89,1)" font-size="9.3" text-anchor="end" fill="#000" font-weight="normal"  stroke="#000" stroke-width="0.2">620.0</text>
<line x1="36" y1="1267.276" x2="39.9" y2="1267.276" stroke="#868686" stroke-width="1"/>
<text transform="translate(33.20,1270.48) scale(0.89,1)" font-size="9.3" text-anchor="end" fill="#000" font-weight="normal"  stroke="#000" stroke-width="0.2">600.0</text>
<line x1="36" y1="1279.642" x2="39.9" y2="1279.642" stroke="#868686" stroke-width="1"/>
<text transform="translate(33.20,1282.84) scale(0.89,1)" font-size="9.3" text-anchor="end" fill="#000" font-weight="normal"  stroke="#000" stroke-width="0.2">580.0</text>
<line x1="36" y1="1292.008" x2="39.9" y2="1292.008" stroke="#868686" stroke-width="1"/>
<text transform="translate(33.20,1295.21) scale(0.89,1)" font-size="9.3" text-anchor="end" fill="#000" font-weight="normal"  stroke="#000" stroke-width="0.2">560.0</text>
<line x1="36" y1="1304.374" x2="39.9" y2="1304.374" stroke="#868686" stroke-width="1"/>
<text transform="translate(33.20,1307.57) scale(0.89,1)" font-size="9.3" text-anchor="end" fill="#000" font-weight="normal"  stroke="#000" stroke-width="0.2">540.0</text>
<line x1="36" y1="1316.74" x2="39.9" y2="1316.74" stroke="#868686" stroke-width="1"/>
<text transform="translate(33.20,1319.94) scale(0.89,1)" font-size="9.3" text-anchor="end" fill="#000" font-weight="normal"  stroke="#000" stroke-width="0.2">520.0</text>
<line x1="36" y1="1329.106" x2="39.9" y2="1329.106" stroke="#868686" stroke-width="1"/>
<text transform="translate(33.20,1332.31) scale(0.89,1)" font-size="9.3" text-anchor="end" fill="#000" font-weight="normal"  stroke="#000" stroke-width="0.2">500.0</text>
<line x1="36" y1="1341.472" x2="39.9" y2="1341.472" stroke="#868686" stroke-width="1"/>
<text transform="translate(33.20,1344.67) scale(0.89,1)" font-size="9.3" text-anchor="end" fill="#000" font-weight="normal"  stroke="#000" stroke-width="0.2">480.0</text>
<line x1="36" y1="1353.8380000000002" x2="39.9" y2="1353.8380000000002" stroke="#868686" stroke-width="1"/>
<text transform="translate(33.20,1357.04) scale(0.89,1)" font-size="9.3" text-anchor="end" fill="#000" font-weight="normal"  stroke="#000" stroke-width="0.2">460.0</text>
<line x1="36" y1="1366.2040000000002" x2="39.9" y2="1366.2040000000002" stroke="#868686" stroke-width="1"/>
<text transform="translate(33.20,1369.40) scale(0.89,1)" font-size="9.3" text-anchor="end" fill="#000" font-weight="normal"  stroke="#000" stroke-width="0.2">440.0</text>
<line x1="36" y1="1378.5700000000002" x2="39.9" y2="1378.5700000000002" stroke="#868686" stroke-width="1"/>
<text transform="translate(33.20,1381.77) scale(0.89,1)" font-size="9.3" text-anchor="end" fill="#000" font-weight="normal"  stroke="#000" stroke-width="0.2">420.0</text>
<line x1="36" y1="1390.9360000000001" x2="39.9" y2="1390.9360000000001" stroke="#868686" stroke-width="1"/>
<text transform="translate(33.20,1394.14) scale(0.89,1)" font-size="9.3" text-anchor="end" fill="#000" font-weight="normal"  stroke="#000" stroke-width="0.2">400.0</text>
<line x1="36" y1="1403.3020000000001" x2="39.9" y2="1403.3020000000001" stroke="#868686" stroke-width="1"/>
<text transform="translate(33.20,1406.50) scale(0.89,1)" font-size="9.3" text-anchor="end" fill="#000" font-weight="normal"  stroke="#000" stroke-width="0.2">380.0</text>
<line x1="36" y1="1415.6680000000001" x2="39.9" y2="1415.6680000000001" stroke="#868686" stroke-width="1"/>
<text transform="translate(33.20,1418.87) scale(0.89,1)" font-size="9.3" text-anchor="end" fill="#000" font-weight="normal"  stroke="#000" stroke-width="0.2">360.0</text>
<line x1="36" y1="1428.034" x2="39.9" y2="1428.034" stroke="#868686" stroke-width="1"/>
<text transform="translate(33.20,1431.23) scale(0.89,1)" font-size="9.3" text-anchor="end" fill="#000" font-weight="normal"  stroke="#000" stroke-width="0.2">340.0</text>
<line x1="36" y1="1440.4" x2="39.9" y2="1440.4" stroke="#868686" stroke-width="1"/>
<text transform="translate(33.20,1443.60) scale(0.89,1)" font-size="9.3" text-anchor="end" fill="#000" font-weight="normal"  stroke="#000" stroke-width="0.2">320.0</text>
<line x1="642.6" y1="1131.25" x2="646" y2="1131.25" stroke="#868686" stroke-width="1"/>
<text transform="translate(647.80,1134.45) scale(0.89,1)" font-size="9.3" text-anchor="start" fill="#000" font-weight="normal"  stroke="#000" stroke-width="0.2">840.0</text>
<line x1="642.6" y1="1143.1403846153846" x2="646" y2="1143.1403846153846" stroke="#868686" stroke-width="1"/>
<text transform="translate(647.80,1146.34) scale(0.89,1)" font-size="9.3" text-anchor="start" fill="#000" font-weight="normal"  stroke="#000" stroke-width="0.2">820.0</text>
<line x1="642.6" y1="1155.0307692307692" x2="646" y2="1155.0307692307692" stroke="#868686" stroke-width="1"/>
<text transform="translate(647.80,1158.23) scale(0.89,1)" font-size="9.3" text-anchor="start" fill="#000" font-weight="normal"  stroke="#000" stroke-width="0.2">800.0</text>
<line x1="642.6" y1="1166.9211538461539" x2="646" y2="1166.9211538461539" stroke="#868686" stroke-width="1"/>
<text transform="translate(647.80,1170.12) scale(0.89,1)" font-size="9.3" text-anchor="start" fill="#000" font-weight="normal"  stroke="#000" stroke-width="0.2">780.0</text>
<line x1="642.6" y1="1178.8115384615385" x2="646" y2="1178.8115384615385" stroke="#868686" stroke-width="1"/>
<text transform="translate(647.80,1182.01) scale(0.89,1)" font-size="9.3" text-anchor="start" fill="#000" font-weight="normal"  stroke="#000" stroke-width="0.2">760.0</text>
<line x1="642.6" y1="1190.701923076923" x2="646" y2="1190.701923076923" stroke="#868686" stroke-width="1"/>
<text transform="translate(647.80,1193.90) scale(0.89,1)" font-size="9.3" text-anchor="start" fill="#000" font-weight="normal"  stroke="#000" stroke-width="0.2">740.0</text>
<line x1="642.6" y1="1202.5923076923077" x2="646" y2="1202.5923076923077" stroke="#868686" stroke-width="1"/>
<text transform="translate(647.80,1205.79) scale(0.89,1)" font-size="9.3" text-anchor="start" fill="#000" font-weight="normal"  stroke="#000" stroke-width="0.2">720.0</text>
<line x1="642.6" y1="1214.4826923076923" x2="646" y2="1214.4826923076923" stroke="#868686" stroke-width="1"/>
<text transform="translate(647.80,1217.68) scale(0.89,1)" font-size="9.3" text-anchor="start" fill="#000" font-weight="normal"  stroke="#000" stroke-width="0.2">700.0</text>
<line x1="642.6" y1="1226.373076923077" x2="646" y2="1226.373076923077" stroke="#868686" stroke-width="1"/>
<text transform="translate(647.80,1229.57) scale(0.89,1)" font-size="9.3" text-anchor="start" fill="#000" font-weight="normal"  stroke="#000" stroke-width="0.2">680.0</text>
<line x1="642.6" y1="1238.2634615384616" x2="646" y2="1238.2634615384616" stroke="#868686" stroke-width="1"/>
<text transform="translate(647.80,1241.46) scale(0.89,1)" font-size="9.3" text-anchor="start" fill="#000" font-weight="normal"  stroke="#000" stroke-width="0.2">660.0</text>
<line x1="642.6" y1="1250.1538461538462" x2="646" y2="1250.1538461538462" stroke="#868686" stroke-width="1"/>
<text transform="translate(647.80,1253.35) scale(0.89,1)" font-size="9.3" text-anchor="start" fill="#000" font-weight="normal"  stroke="#000" stroke-width="0.2">640.0</text>
<line x1="642.6" y1="1262.0442307692308" x2="646" y2="1262.0442307692308" stroke="#868686" stroke-width="1"/>
<text transform="translate(647.80,1265.24) scale(0.89,1)" font-size="9.3" text-anchor="start" fill="#000" font-weight="normal"  stroke="#000" stroke-width="0.2">620.0</text>
<line x1="642.6" y1="1273.9346153846154" x2="646" y2="1273.9346153846154" stroke="#868686" stroke-width="1"/>
<text transform="translate(647.80,1277.13) scale(0.89,1)" font-size="9.3" text-anchor="start" fill="#000" font-weight="normal"  stroke="#000" stroke-width="0.2">600.0</text>
<line x1="642.6" y1="1285.825" x2="646" y2="1285.825" stroke="#868686" stroke-width="1"/>
<text transform="translate(647.80,1289.03) scale(0.89,1)" font-size="9.3" text-anchor="start" fill="#000" font-weight="normal"  stroke="#000" stroke-width="0.2">580.0</text>
<line x1="642.6" y1="1297.7153846153847" x2="646" y2="1297.7153846153847" stroke="#868686" stroke-width="1"/>
<text transform="translate(647.80,1300.92) scale(0.89,1)" font-size="9.3" text-anchor="start" fill="#000" font-weight="normal"  stroke="#000" stroke-width="0.2">560.0</text>
<line x1="642.6" y1="1309.6057692307693" x2="646" y2="1309.6057692307693" stroke="#868686" stroke-width="1"/>
<text transform="translate(647.80,1312.81) scale(0.89,1)" font-size="9.3" text-anchor="start" fill="#000" font-weight="normal"  stroke="#000" stroke-width="0.2">540.0</text>
<line x1="642.6" y1="1321.496153846154" x2="646" y2="1321.496153846154" stroke="#868686" stroke-width="1"/>
<text transform="translate(647.80,1324.70) scale(0.89,1)" font-size="9.3" text-anchor="start" fill="#000" font-weight="normal"  stroke="#000" stroke-width="0.2">520.0</text>
<line x1="642.6" y1="1333.3865384615385" x2="646" y2="1333.3865384615385" stroke="#868686" stroke-width="1"/>
<text transform="translate(647.80,1336.59) scale(0.89,1)" font-size="9.3" text-anchor="start" fill="#000" font-weight="normal"  stroke="#000" stroke-width="0.2">500.0</text>
<line x1="642.6" y1="1345.2769230769231" x2="646" y2="1345.2769230769231" stroke="#868686" stroke-width="1"/>
<text transform="translate(647.80,1348.48) scale(0.89,1)" font-size="9.3" text-anchor="start" fill="#000" font-weight="normal"  stroke="#000" stroke-width="0.2">480.0</text>
<line x1="642.6" y1="1357.1673076923078" x2="646" y2="1357.1673076923078" stroke="#868686" stroke-width="1"/>
<text transform="translate(647.80,1360.37) scale(0.89,1)" font-size="9.3" text-anchor="start" fill="#000" font-weight="normal"  stroke="#000" stroke-width="0.2">460.0</text>
<line x1="642.6" y1="1369.0576923076924" x2="646" y2="1369.0576923076924" stroke="#868686" stroke-width="1"/>
<text transform="translate(647.80,1372.26) scale(0.89,1)" font-size="9.3" text-anchor="start" fill="#000" font-weight="normal"  stroke="#000" stroke-width="0.2">440.0</text>
<line x1="642.6" y1="1380.948076923077" x2="646" y2="1380.948076923077" stroke="#868686" stroke-width="1"/>
<text transform="translate(647.80,1384.15) scale(0.89,1)" font-size="9.3" text-anchor="start" fill="#000" font-weight="normal"  stroke="#000" stroke-width="0.2">420.0</text>
<line x1="642.6" y1="1392.8384615384616" x2="646" y2="1392.8384615384616" stroke="#868686" stroke-width="1"/>
<text transform="translate(647.80,1396.04) scale(0.89,1)" font-size="9.3" text-anchor="start" fill="#000" font-weight="normal"  stroke="#000" stroke-width="0.2">400.0</text>
<line x1="642.6" y1="1404.7288461538462" x2="646" y2="1404.7288461538462" stroke="#868686" stroke-width="1"/>
<text transform="translate(647.80,1407.93) scale(0.89,1)" font-size="9.3" text-anchor="start" fill="#000" font-weight="normal"  stroke="#000" stroke-width="0.2">380.0</text>
<line x1="642.6" y1="1416.6192307692309" x2="646" y2="1416.6192307692309" stroke="#868686" stroke-width="1"/>
<text transform="translate(647.80,1419.82) scale(0.89,1)" font-size="9.3" text-anchor="start" fill="#000" font-weight="normal"  stroke="#000" stroke-width="0.2">360.0</text>
<line x1="642.6" y1="1428.5096153846155" x2="646" y2="1428.5096153846155" stroke="#868686" stroke-width="1"/>
<text transform="translate(647.80,1431.71) scale(0.89,1)" font-size="9.3" text-anchor="start" fill="#000" font-weight="normal"  stroke="#000" stroke-width="0.2">340.0</text>
<line x1="642.6" y1="1440.4" x2="646" y2="1440.4" stroke="#868686" stroke-width="1"/>
<text transform="translate(647.80,1443.60) scale(0.89,1)" font-size="9.3" text-anchor="start" fill="#000" font-weight="normal"  stroke="#000" stroke-width="0.2">320.0</text>
<line x1="58.769999999999996" y1="1440.4" x2="58.769999999999996" y2="1470" stroke="#868686" stroke-width="1.25"/>
<line x1="78.21" y1="1440.4" x2="78.21" y2="1470" stroke="#868686" stroke-width="1.25"/>
<line x1="97.64999999999999" y1="1440.4" x2="97.64999999999999" y2="1470" stroke="#868686" stroke-width="1.25"/>
<line x1="117.09" y1="1440.4" x2="117.09" y2="1470" stroke="#868686" stroke-width="1.25"/>
<line x1="136.53000000000003" y1="1440.4" x2="136.53000000000003" y2="1470" stroke="#868686" stroke-width="1.25"/>
<line x1="155.97000000000003" y1="1440.4" x2="155.97000000000003" y2="1470" stroke="#868686" stroke-width="1.25"/>
<line x1="175.41000000000003" y1="1440.4" x2="175.41000000000003" y2="1470" stroke="#868686" stroke-width="1.25"/>
<line x1="194.85000000000002" y1="1440.4" x2="194.85000000000002" y2="1470" stroke="#868686" stroke-width="1.25"/>
<line x1="214.29000000000002" y1="1440.4" x2="214.29000000000002" y2="1470" stroke="#868686" stroke-width="1.25"/>
<line x1="233.73000000000002" y1="1440.4" x2="233.73000000000002" y2="1470" stroke="#868686" stroke-width="1.25"/>
<line x1="253.17000000000002" y1="1440.4" x2="253.17000000000002" y2="1470" stroke="#868686" stroke-width="1.25"/>
<line x1="272.61" y1="1440.4" x2="272.61" y2="1498.5" stroke="#868686" stroke-width="1.25"/>
<line x1="292.05" y1="1440.4" x2="292.05" y2="1470" stroke="#868686" stroke-width="1.25"/>
<line x1="311.49" y1="1440.4" x2="311.49" y2="1470" stroke="#868686" stroke-width="1.25"/>
<line x1="330.93" y1="1440.4" x2="330.93" y2="1470" stroke="#868686" stroke-width="1.25"/>
<line x1="350.37" y1="1440.4" x2="350.37" y2="1470" stroke="#868686" stroke-width="1.25"/>
<line x1="369.81000000000006" y1="1440.4" x2="369.81000000000006" y2="1470" stroke="#868686" stroke-width="1.25"/>
<line x1="389.25000000000006" y1="1440.4" x2="389.25000000000006" y2="1470" stroke="#868686" stroke-width="1.25"/>
<line x1="408.69000000000005" y1="1440.4" x2="408.69000000000005" y2="1470" stroke="#868686" stroke-width="1.25"/>
<line x1="428.13000000000005" y1="1440.4" x2="428.13000000000005" y2="1470" stroke="#868686" stroke-width="1.25"/>
<line x1="447.57000000000005" y1="1440.4" x2="447.57000000000005" y2="1470" stroke="#868686" stroke-width="1.25"/>
<line x1="467.01000000000005" y1="1440.4" x2="467.01000000000005" y2="1470" stroke="#868686" stroke-width="1.25"/>
<line x1="486.45000000000005" y1="1440.4" x2="486.45000000000005" y2="1470" stroke="#868686" stroke-width="1.25"/>
<line x1="505.89000000000004" y1="1440.4" x2="505.89000000000004" y2="1470" stroke="#868686" stroke-width="1.25"/>
<line x1="525.3299999999999" y1="1440.4" x2="525.3299999999999" y2="1470" stroke="#868686" stroke-width="1.25"/>
<line x1="544.77" y1="1440.4" x2="544.77" y2="1470" stroke="#868686" stroke-width="1.25"/>
<line x1="564.21" y1="1440.4" x2="564.21" y2="1470" stroke="#868686" stroke-width="1.25"/>
<line x1="583.65" y1="1440.4" x2="583.65" y2="1470" stroke="#868686" stroke-width="1.25"/>
<line x1="603.09" y1="1440.4" x2="603.09" y2="1470" stroke="#868686" stroke-width="1.25"/>
<line x1="622.53" y1="1440.4" x2="622.53" y2="1470" stroke="#868686" stroke-width="1.25"/>
<text x="0" y="0" font-size="9" text-anchor="end" fill="#000" font-weight="normal" transform="translate(51.95,1445.2) rotate(-90)">1月末</text>
<text x="0" y="0" font-size="9" text-anchor="end" fill="#000" font-weight="normal" transform="translate(71.39,1445.2) rotate(-90)">2月末</text>
<text x="0" y="0" font-size="9" text-anchor="end" fill="#000" font-weight="normal" transform="translate(90.83,1445.2) rotate(-90)">3月末</text>
<text x="0" y="0" font-size="9" text-anchor="end" fill="#000" font-weight="normal" transform="translate(110.27,1445.2) rotate(-90)">4月末</text>
<text x="0" y="0" font-size="9" text-anchor="end" fill="#000" font-weight="normal" transform="translate(129.71,1445.2) rotate(-90)">5月末</text>
<text x="0" y="0" font-size="9" text-anchor="end" fill="#000" font-weight="normal" transform="translate(149.15,1445.2) rotate(-90)">6月末</text>
<text x="0" y="0" font-size="9" text-anchor="end" fill="#000" font-weight="normal" transform="translate(168.59,1445.2) rotate(-90)">7月末</text>
<text x="0" y="0" font-size="9" text-anchor="end" fill="#000" font-weight="normal" transform="translate(188.03,1445.2) rotate(-90)">8月末</text>
<text x="0" y="0" font-size="9" text-anchor="end" fill="#000" font-weight="normal" transform="translate(207.47,1445.2) rotate(-90)">9月末</text>
<text x="0" y="0" font-size="9" text-anchor="end" fill="#000" font-weight="normal" transform="translate(226.91,1445.2) rotate(-90)">10月末</text>
<text x="0" y="0" font-size="9" text-anchor="end" fill="#000" font-weight="normal" transform="translate(246.35,1445.2) rotate(-90)">11月末</text>
<text x="0" y="0" font-size="9" text-anchor="end" fill="#000" font-weight="normal" transform="translate(265.79,1445.2) rotate(-90)">12月末</text>
<text x="0" y="0" font-size="9" text-anchor="end" fill="#000" font-weight="normal" transform="translate(285.23,1445.2) rotate(-90)">1月末</text>
<text x="0" y="0" font-size="9" text-anchor="end" fill="#000" font-weight="normal" transform="translate(304.67,1445.2) rotate(-90)">2月末</text>
<text x="0" y="0" font-size="9" text-anchor="end" fill="#000" font-weight="normal" transform="translate(324.11,1445.2) rotate(-90)">3月末</text>
<text x="0" y="0" font-size="9" text-anchor="end" fill="#000" font-weight="normal" transform="translate(343.55,1445.2) rotate(-90)">4月末</text>
<text x="0" y="0" font-size="9" text-anchor="end" fill="#000" font-weight="normal" transform="translate(362.99,1445.2) rotate(-90)">5月末</text>
<text x="0" y="0" font-size="9" text-anchor="end" fill="#000" font-weight="normal" transform="translate(382.43,1445.2) rotate(-90)">6月末</text>
<text x="0" y="0" font-size="9" text-anchor="end" fill="#000" font-weight="normal" transform="translate(401.87,1445.2) rotate(-90)">7月1日</text>
<text x="0" y="0" font-size="9" text-anchor="end" fill="#000" font-weight="normal" transform="translate(421.31,1445.2) rotate(-90)">7月4日</text>
<text x="0" y="0" font-size="9" text-anchor="end" fill="#000" font-weight="normal" transform="translate(440.75,1445.2) rotate(-90)">7月5日</text>
<text x="0" y="0" font-size="9" text-anchor="end" fill="#000" font-weight="normal" transform="translate(460.19,1445.2) rotate(-90)">7月6日</text>
<text x="0" y="0" font-size="9" text-anchor="end" fill="#000" font-weight="normal" transform="translate(479.63,1445.2) rotate(-90)">7月7日</text>
<text x="0" y="0" font-size="9" text-anchor="end" fill="#000" font-weight="normal" transform="translate(499.07,1445.2) rotate(-90)">7月8日</text>
<text x="0" y="0" font-size="9" text-anchor="end" fill="#000" font-weight="normal" transform="translate(518.51,1445.2) rotate(-90)">7月11日</text>
<text x="0" y="0" font-size="9" text-anchor="end" fill="#000" font-weight="normal" transform="translate(537.95,1445.2) rotate(-90)">7月12日</text>
<text x="0" y="0" font-size="9" text-anchor="end" fill="#000" font-weight="normal" transform="translate(557.39,1445.2) rotate(-90)">7月13日</text>
<text x="0" y="0" font-size="9" text-anchor="end" fill="#000" font-weight="normal" transform="translate(576.83,1445.2) rotate(-90)">7月14日</text>
<text x="0" y="0" font-size="9" text-anchor="end" fill="#000" font-weight="normal" transform="translate(596.27,1445.2) rotate(-90)">7月15日</text>
<text x="0" y="0" font-size="9" text-anchor="end" fill="#000" font-weight="normal" transform="translate(615.71,1445.2) rotate(-90)">7月18日</text>
<text x="0" y="0" font-size="9" text-anchor="end" fill="#000" font-weight="normal" transform="translate(635.15,1445.2) rotate(-90)">7月19日</text>
<text x="156.54000000000002" y="1495.5" font-size="9" text-anchor="middle" fill="#000" font-weight="normal" >2021年</text>
<text x="457.89" y="1495.5" font-size="9" text-anchor="middle" fill="#000" font-weight="normal" >2022年</text>
<polyline points="48.75,1289.50 68.19,1255.00 87.63,1274.50 107.07,1225.75 126.51,1202.50 145.95,1161.25 165.39,1232.50 184.83,1293.00 204.27,1365.00 223.71,1388.00 243.15,1407.50 262.59,1370.00 282.03,1311.25 301.47,1330.50 320.91,1288.75 340.35,1317.75 359.79,1330.00 379.23,1365.00 398.67,1375.00 418.11,1385.00 437.55,1380.00 456.99,1382.50 476.43,1378.25 495.87,1379.00 515.31,1386.25 534.75,1396.25 554.19,1389.50 573.63,1406.25 593.07,1415.50 612.51,1408.25 631.95,1411.25" fill="none" stroke="#4A7EBB" stroke-width="2.5" stroke-linejoin="round"/>
<path d="M48.75 1285.6L52.65 1289.5L48.75 1293.4L44.85 1289.5Z" fill="#4A7EBB"/>
<path d="M68.19 1251.1L72.09 1255L68.19 1258.9L64.28999999999999 1255Z" fill="#4A7EBB"/>
<path d="M87.63 1270.6L91.53 1274.5L87.63 1278.4L83.72999999999999 1274.5Z" fill="#4A7EBB"/>
<path d="M107.07000000000001 1221.85L110.97000000000001 1225.75L107.07000000000001 1229.65L103.17 1225.75Z" fill="#4A7EBB"/>
<path d="M126.51 1198.6L130.41 1202.5L126.51 1206.4L122.61 1202.5Z" fill="#4A7EBB"/>
<path d="M145.95 1157.35L149.85 1161.25L145.95 1165.15L142.04999999999998 1161.25Z" fill="#4A7EBB"/>
<path d="M165.39000000000001 1228.6L169.29000000000002 1232.5L165.39000000000001 1236.4L161.49 1232.5Z" fill="#4A7EBB"/>
<path d="M184.83 1289.1L188.73000000000002 1293L184.83 1296.9L180.93 1293Z" fill="#4A7EBB"/>
<path d="M204.27 1361.1L208.17000000000002 1365L204.27 1368.9L200.37 1365Z" fill="#4A7EBB"/>
<path d="M223.71 1384.1L227.61 1388L223.71 1391.9L219.81 1388Z" fill="#4A7EBB"/>
<path d="M243.15 1403.6L247.05 1407.5L243.15 1411.4L239.25 1407.5Z" fill="#4A7EBB"/>
<path d="M262.59000000000003 1366.1L266.49 1370L262.59000000000003 1373.9L258.69000000000005 1370Z" fill="#4A7EBB"/>
<path d="M282.03000000000003 1307.35L285.93 1311.25L282.03000000000003 1315.15L278.13000000000005 1311.25Z" fill="#4A7EBB"/>
<path d="M301.47 1326.6L305.37 1330.5L301.47 1334.4L297.57000000000005 1330.5Z" fill="#4A7EBB"/>
<path d="M320.91 1284.85L324.81 1288.75L320.91 1292.65L317.01000000000005 1288.75Z" fill="#4A7EBB"/>
<path d="M340.35 1313.85L344.25 1317.75L340.35 1321.65L336.45000000000005 1317.75Z" fill="#4A7EBB"/>
<path d="M359.79 1326.1L363.69 1330L359.79 1333.9L355.89000000000004 1330Z" fill="#4A7EBB"/>
<path d="M379.23 1361.1L383.13 1365L379.23 1368.9L375.33000000000004 1365Z" fill="#4A7EBB"/>
<path d="M398.67 1371.1L402.57 1375L398.67 1378.9L394.77000000000004 1375Z" fill="#4A7EBB"/>
<path d="M418.11 1381.1L422.01 1385L418.11 1388.9L414.21000000000004 1385Z" fill="#4A7EBB"/>
<path d="M437.55 1376.1L441.45 1380L437.55 1383.9L433.65000000000003 1380Z" fill="#4A7EBB"/>
<path d="M456.99 1378.6L460.89 1382.5L456.99 1386.4L453.09000000000003 1382.5Z" fill="#4A7EBB"/>
<path d="M476.43 1374.35L480.33 1378.25L476.43 1382.15L472.53000000000003 1378.25Z" fill="#4A7EBB"/>
<path d="M495.87 1375.1L499.77 1379L495.87 1382.9L491.97 1379Z" fill="#4A7EBB"/>
<path d="M515.3100000000001 1382.35L519.21 1386.25L515.3100000000001 1390.15L511.4100000000001 1386.25Z" fill="#4A7EBB"/>
<path d="M534.75 1392.35L538.65 1396.25L534.75 1400.15L530.85 1396.25Z" fill="#4A7EBB"/>
<path d="M554.19 1385.6L558.09 1389.5L554.19 1393.4L550.2900000000001 1389.5Z" fill="#4A7EBB"/>
<path d="M573.63 1402.35L577.53 1406.25L573.63 1410.15L569.73 1406.25Z" fill="#4A7EBB"/>
<path d="M593.07 1411.6L596.97 1415.5L593.07 1419.4L589.1700000000001 1415.5Z" fill="#4A7EBB"/>
<path d="M612.51 1404.35L616.41 1408.25L612.51 1412.15L608.61 1408.25Z" fill="#4A7EBB"/>
<path d="M631.95 1407.35L635.85 1411.25L631.95 1415.15L628.0500000000001 1411.25Z" fill="#4A7EBB"/>
<polyline points="48.75,1343.00 68.19,1336.25 87.63,1338.75 107.07,1313.75 126.51,1284.00 145.95,1271.25 165.39,1262.50 184.83,1314.50 204.27,1363.75 223.71,1372.50 243.15,1413.75 262.59,1393.00 282.03,1384.25 301.47,1381.25 320.91,1360.00 340.35,1353.50 359.79,1367.00 379.23,1385.50 398.67,1385.50 418.11,1386.25 437.55,1390.50 456.99,1395.50 476.43,1395.50 495.87,1396.00 515.31,1397.00 534.75,1398.75 554.19,1401.75 573.63,1401.75 593.07,1400.00 612.51,1405.75 631.95,1407.00" fill="none" stroke="#BE4B48" stroke-width="2.5" stroke-linejoin="round"/>
<rect x="44.95" y="1339.2" width="7.6" height="7.6" fill="#BE4B48"/>
<rect x="64.39" y="1332.45" width="7.6" height="7.6" fill="#BE4B48"/>
<rect x="83.83" y="1334.95" width="7.6" height="7.6" fill="#BE4B48"/>
<rect x="103.27000000000001" y="1309.95" width="7.6" height="7.6" fill="#BE4B48"/>
<rect x="122.71000000000001" y="1280.2" width="7.6" height="7.6" fill="#BE4B48"/>
<rect x="142.14999999999998" y="1267.45" width="7.6" height="7.6" fill="#BE4B48"/>
<rect x="161.59" y="1258.7" width="7.6" height="7.6" fill="#BE4B48"/>
<rect x="181.03" y="1310.7" width="7.6" height="7.6" fill="#BE4B48"/>
<rect x="200.47" y="1359.95" width="7.6" height="7.6" fill="#BE4B48"/>
<rect x="219.91" y="1368.7" width="7.6" height="7.6" fill="#BE4B48"/>
<rect x="239.35" y="1409.95" width="7.6" height="7.6" fill="#BE4B48"/>
<rect x="258.79" y="1389.2" width="7.6" height="7.6" fill="#BE4B48"/>
<rect x="278.23" y="1380.45" width="7.6" height="7.6" fill="#BE4B48"/>
<rect x="297.67" y="1377.45" width="7.6" height="7.6" fill="#BE4B48"/>
<rect x="317.11" y="1356.2" width="7.6" height="7.6" fill="#BE4B48"/>
<rect x="336.55" y="1349.7" width="7.6" height="7.6" fill="#BE4B48"/>
<rect x="355.99" y="1363.2" width="7.6" height="7.6" fill="#BE4B48"/>
<rect x="375.43" y="1381.7" width="7.6" height="7.6" fill="#BE4B48"/>
<rect x="394.87" y="1381.7" width="7.6" height="7.6" fill="#BE4B48"/>
<rect x="414.31" y="1382.45" width="7.6" height="7.6" fill="#BE4B48"/>
<rect x="433.75" y="1386.7" width="7.6" height="7.6" fill="#BE4B48"/>
<rect x="453.19" y="1391.7" width="7.6" height="7.6" fill="#BE4B48"/>
<rect x="472.63" y="1391.7" width="7.6" height="7.6" fill="#BE4B48"/>
<rect x="492.07" y="1392.2" width="7.6" height="7.6" fill="#BE4B48"/>
<rect x="511.51000000000005" y="1393.2" width="7.6" height="7.6" fill="#BE4B48"/>
<rect x="530.95" y="1394.95" width="7.6" height="7.6" fill="#BE4B48"/>
<rect x="550.3900000000001" y="1397.95" width="7.6" height="7.6" fill="#BE4B48"/>
<rect x="569.83" y="1397.95" width="7.6" height="7.6" fill="#BE4B48"/>
<rect x="589.2700000000001" y="1396.2" width="7.6" height="7.6" fill="#BE4B48"/>
<rect x="608.71" y="1401.95" width="7.6" height="7.6" fill="#BE4B48"/>
<rect x="628.1500000000001" y="1403.2" width="7.6" height="7.6" fill="#BE4B48"/>
<polyline points="48.75,1286.25 68.19,1247.00 87.63,1270.50 107.07,1218.75 126.51,1197.50 145.95,1152.00 165.39,1236.25 184.83,1296.25 204.27,1370.00 223.71,1394.25 243.15,1407.00 262.59,1368.75 282.03,1303.75 301.47,1326.25 320.91,1282.00 340.35,1317.75 359.79,1329.50 379.23,1365.00 398.67,1376.25 418.11,1388.00 437.55,1381.25 456.99,1383.25 476.43,1378.75 495.87,1379.50 515.31,1387.50 534.75,1398.75 554.19,1389.50 573.63,1407.00 593.07,1420.00 612.51,1409.25 631.95,1413.00" fill="none" stroke="#98B954" stroke-width="2.5" stroke-linejoin="round"/>
<path d="M48.75 1281.63L52.95 1289.61L44.55 1289.61Z" fill="#98B954"/>
<path d="M68.19 1242.38L72.39 1250.36L63.989999999999995 1250.36Z" fill="#98B954"/>
<path d="M87.63 1265.88L91.83 1273.86L83.42999999999999 1273.86Z" fill="#98B954"/>
<path d="M107.07000000000001 1214.13L111.27000000000001 1222.11L102.87 1222.11Z" fill="#98B954"/>
<path d="M126.51 1192.88L130.71 1200.86L122.31 1200.86Z" fill="#98B954"/>
<path d="M145.95 1147.38L150.14999999999998 1155.36L141.75 1155.36Z" fill="#98B954"/>
<path d="M165.39000000000001 1231.63L169.59 1239.61L161.19000000000003 1239.61Z" fill="#98B954"/>
<path d="M184.83 1291.63L189.03 1299.61L180.63000000000002 1299.61Z" fill="#98B954"/>
<path d="M204.27 1365.38L208.47 1373.36L200.07000000000002 1373.36Z" fill="#98B954"/>
<path d="M223.71 1389.63L227.91 1397.61L219.51000000000002 1397.61Z" fill="#98B954"/>
<path d="M243.15 1402.38L247.35 1410.36L238.95000000000002 1410.36Z" fill="#98B954"/>
<path d="M262.59000000000003 1364.13L266.79 1372.11L258.39000000000004 1372.11Z" fill="#98B954"/>
<path d="M282.03000000000003 1299.13L286.23 1307.11L277.83000000000004 1307.11Z" fill="#98B954"/>
<path d="M301.47 1321.63L305.67 1329.61L297.27000000000004 1329.61Z" fill="#98B954"/>
<path d="M320.91 1277.38L325.11 1285.36L316.71000000000004 1285.36Z" fill="#98B954"/>
<path d="M340.35 1313.13L344.55 1321.11L336.15000000000003 1321.11Z" fill="#98B954"/>
<path d="M359.79 1324.88L363.99 1332.86L355.59000000000003 1332.86Z" fill="#98B954"/>
<path d="M379.23 1360.38L383.43 1368.36L375.03000000000003 1368.36Z" fill="#98B954"/>
<path d="M398.67 1371.63L402.87 1379.61L394.47 1379.61Z" fill="#98B954"/>
<path d="M418.11 1383.38L422.31 1391.36L413.91 1391.36Z" fill="#98B954"/>
<path d="M437.55 1376.63L441.75 1384.61L433.35 1384.61Z" fill="#98B954"/>
<path d="M456.99 1378.63L461.19 1386.61L452.79 1386.61Z" fill="#98B954"/>
<path d="M476.43 1374.13L480.63 1382.11L472.23 1382.11Z" fill="#98B954"/>
<path d="M495.87 1374.88L500.07 1382.86L491.67 1382.86Z" fill="#98B954"/>
<path d="M515.3100000000001 1382.88L519.5100000000001 1390.86L511.11000000000007 1390.86Z" fill="#98B954"/>
<path d="M534.75 1394.13L538.95 1402.11L530.55 1402.11Z" fill="#98B954"/>
<path d="M554.19 1384.88L558.3900000000001 1392.86L549.99 1392.86Z" fill="#98B954"/>
<path d="M573.63 1402.38L577.83 1410.36L569.43 1410.36Z" fill="#98B954"/>
<path d="M593.07 1415.38L597.2700000000001 1423.36L588.87 1423.36Z" fill="#98B954"/>
<path d="M612.51 1404.63L616.71 1412.61L608.31 1412.61Z" fill="#98B954"/>
<path d="M631.95 1408.38L636.1500000000001 1416.36L627.75 1416.36Z" fill="#98B954"/>
<text x="168.75" y="1155.3" font-size="8.7" text-anchor="middle" fill="#7F9832" font-weight="normal"  stroke="#7F9832" stroke-width="0.15">805.44</text>
<text x="169.25" y="1164.55" font-size="8.7" text-anchor="middle" fill="#1272D2" font-weight="normal"  stroke="#1272D2" stroke-width="0.15">771.62</text>
<text x="87" y="1252.05" font-size="8.7" text-anchor="middle" fill="#7F9832" font-weight="normal"  stroke="#7F9832" stroke-width="0.15">605.70</text>
<text x="48.75" y="1265.8" font-size="8.7" text-anchor="middle" fill="#7F9832" font-weight="normal"  stroke="#7F9832" stroke-width="0.15">578.71</text>
<text x="98.75" y="1291.3" font-size="8.7" text-anchor="middle" fill="#1272D2" font-weight="normal"  stroke="#1272D2" stroke-width="0.15">586.23</text>
<text x="149.5" y="1293.3" font-size="8.7" text-anchor="middle" fill="#E0101A" font-weight="normal"  stroke="#E0101A" stroke-width="0.15">592.71</text>
<text x="58.75" y="1310.3" font-size="8.7" text-anchor="middle" fill="#1272D2" font-weight="normal"  stroke="#1272D2" stroke-width="0.15">562.45</text>
<text x="57" y="1360.3" font-size="8.7" text-anchor="middle" fill="#E0101A" font-weight="normal"  stroke="#E0101A" stroke-width="0.15">476.42</text>
<text x="89.25" y="1355.8" font-size="8.7" text-anchor="middle" fill="#E0101A" font-weight="normal"  stroke="#E0101A" stroke-width="0.15">483.25</text>
<text x="267" y="1290.8" font-size="8.7" text-anchor="middle" fill="#7F9832" font-weight="normal"  stroke="#7F9832" stroke-width="0.15">548.68</text>
<text x="242" y="1376.3" font-size="8.7" text-anchor="middle" fill="#7F9832" font-weight="normal"  stroke="#7F9832" stroke-width="0.15">375.63</text>
<text x="243" y="1382.05" font-size="8.7" text-anchor="middle" fill="#1272D2" font-weight="normal"  stroke="#1272D2" stroke-width="0.15">373.59</text>
<text x="257.5" y="1417.8" font-size="8.7" text-anchor="middle" fill="#E0101A" font-weight="normal"  stroke="#E0101A" stroke-width="0.15">362.84</text>
<text x="286.25" y="1338.3" font-size="8.7" text-anchor="middle" fill="#1272D2" font-weight="normal"  stroke="#1272D2" stroke-width="0.15">526.67</text>
<text x="337.5" y="1337.05" font-size="8.7" text-anchor="middle" fill="#1272D2" font-weight="normal"  stroke="#1272D2" stroke-width="0.15">515.64</text>
<text x="342.5" y="1308.3" font-size="8.7" text-anchor="middle" fill="#7F9832" font-weight="normal"  stroke="#7F9832" stroke-width="0.15">526.35</text>
<text x="285.5" y="1405.3" font-size="8.7" text-anchor="middle" fill="#E0101A" font-weight="normal"  stroke="#E0101A" stroke-width="0.15">410.20</text>
<text x="335" y="1365.8" font-size="8.7" text-anchor="middle" fill="#E0101A" font-weight="normal"  stroke="#E0101A" stroke-width="0.15">458.95</text>
<text x="376.75" y="1354.05" font-size="8.7" text-anchor="middle" fill="#7F9832" font-weight="normal"  stroke="#7F9832" stroke-width="0.15">447.07</text>
<text x="377.5" y="1379.05" font-size="8.7" text-anchor="middle" fill="#1272D2" font-weight="normal"  stroke="#1272D2" stroke-width="0.15">440.88</text>
<text x="380" y="1398.3" font-size="8.7" text-anchor="middle" fill="#E0101A" font-weight="normal"  stroke="#E0101A" stroke-width="0.15">408.17</text>
<text x="625" y="1396.3" font-size="8.7" text-anchor="middle" fill="#E0101A" font-weight="normal"  stroke="#E0101A" stroke-width="0.15">372.56</text>
<text x="622.5" y="1425.3" font-size="8.7" text-anchor="middle" fill="#1272D2" font-weight="normal"  stroke="#1272D2" stroke-width="0.15">365.34</text>
<text x="626.25" y="1435.05" font-size="8.7" text-anchor="middle" fill="#7F9832" font-weight="normal"  stroke="#7F9832" stroke-width="0.15">363.98</text>
</svg>
</body></html>
